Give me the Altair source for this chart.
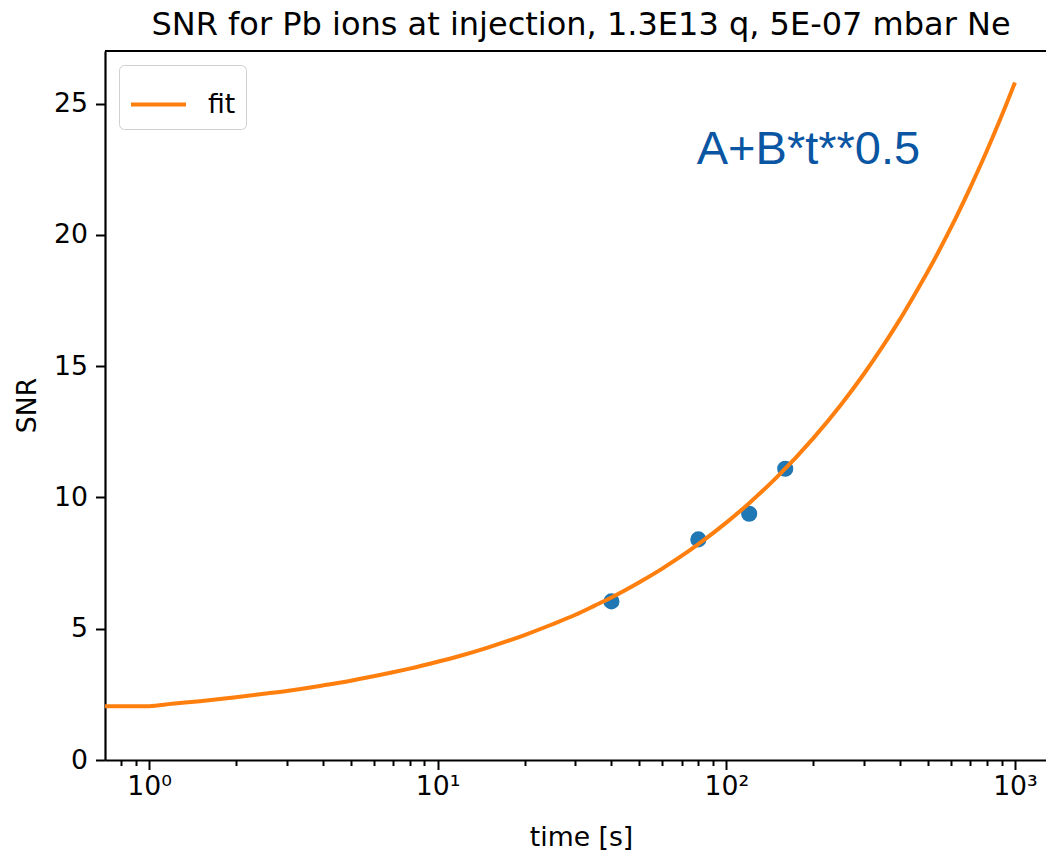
import altair as alt
import pandas as pd

# fitted curve
fit_t = [0.5, 1, 1.2, 1.5, 2, 2.5, 3, 4, 5, 6, 7, 8, 10, 12, 15, 20, 25, 30, 35, 40, 50, 60, 70,
         80, 100, 120, 150, 200, 250, 300, 350, 400, 450, 500, 600, 700, 800, 900, 1000]
fit_snr = [2.04, 2.05, 2.14, 2.24, 2.39, 2.52, 2.63, 2.84, 3.02, 3.19, 3.34, 3.48, 3.74, 3.97,
           4.29, 4.76, 5.17, 5.53, 5.88, 6.19, 6.77, 7.29, 7.77, 8.22, 9.04, 9.78, 10.78, 12.25,
           13.54, 14.71, 15.79, 16.79, 17.74, 18.62, 20.27, 21.8, 23.21, 24.54, 25.8]

# measured points
meas_t = [40, 80, 120, 160]
meas_snr = [6.04, 8.40, 9.38, 11.09]

# annotation
ann_t = [79]
ann_snr = [22.7]
ann_text = ["A+B*t**0.5"]

x_ticks = [0.8, 0.9, 1, 2, 3, 4, 5, 6, 7, 8, 9, 10, 20, 30, 40, 50, 60, 70, 80, 90,
           100, 200, 300, 400, 500, 600, 700, 800, 900, 1000]
y_ticks = [0, 5, 10, 15, 20, 25]

W, H = 941, 709
FONT = "DejaVu Sans"

fit_df = pd.DataFrame({"t": fit_t, "snr": fit_snr, "series": ["fit"] * len(fit_t)})
meas_df = pd.DataFrame({"t": meas_t, "snr": meas_snr})
ann_df = pd.DataFrame({"t": ann_t, "snr": ann_snr, "label": ann_text})

xscale = alt.Scale(type="log", domain=[0.704, 1281], nice=False)
yscale = alt.Scale(domain=[0, 27], nice=False, zero=False)

major = "datum.value==1||datum.value==10||datum.value==100||datum.value==1000"

xaxis = alt.Axis(
    title="time [s]", values=x_ticks, grid=False,
    labelExpr="datum.value==1?'10⁰':datum.value==10?'10¹':datum.value==100?'10²':datum.value==1000?'10³':''",
    tickSize={"condition": {"test": major, "value": 9.5}, "value": 5.5},
    tickWidth=2, tickColor="black", domainColor="black", domainWidth=2.2,
    labelFont=FONT, labelFontSize=26.7, labelColor="black", labelPadding=4,
    labelFlush=False, labelOverlap=False,
    titleFont=FONT, titleFontSize=26.7, titleFontWeight="normal", titleColor="black",
    titleX=476, titleY=85, titleBaseline="alphabetic", titleAlign="center",
)
yaxis = alt.Axis(
    title="SNR", values=y_ticks, grid=False,
    tickSize=9.5, tickWidth=2, tickColor="black", domainColor="black", domainWidth=2.2,
    labelFont=FONT, labelFontSize=26.7, labelColor="black", labelPadding=8,
    titleFont=FONT, titleFontSize=26.7, titleFontWeight="normal", titleColor="black",
    titleX=-70, titleY=354, titleBaseline="alphabetic", titleAlign="center", titleAngle=-90,
)

line = alt.Chart(fit_df).mark_line(strokeWidth=4, clip=True, interpolate="monotone").encode(
    x=alt.X("t:Q", scale=xscale, axis=xaxis),
    y=alt.Y("snr:Q", scale=yscale, axis=yaxis),
    color=alt.Color("series:N", scale=alt.Scale(domain=["fit"], range=["#ff7f0e"]),
                    legend=alt.Legend(title=None, orient="none", legendX=14, legendY=14,
                                      symbolType="stroke", symbolSize=3025, symbolStrokeWidth=4,
                                      labelFont=FONT, labelFontSize=26.7, labelColor="black",
                                      labelOffset=20, padding=10, cornerRadius=5,
                                      fillColor="rgba(255,255,255,0.8)", strokeColor="#d0d0d0")),
)

pts = alt.Chart(meas_df).mark_circle(size=260, opacity=1, color="#1f77b4").encode(
    x=alt.X("t:Q", scale=xscale),
    y=alt.Y("snr:Q", scale=yscale),
)

ann = alt.Chart(ann_df).mark_text(
    align="left", baseline="alphabetic", font="Liberation Sans", fontSize=47, color="#0a56a3"
).encode(
    x=alt.X("t:Q", scale=xscale),
    y=alt.Y("snr:Q", scale=yscale),
    text="label:N",
)

topline = alt.Chart(meas_df).mark_rule(color="black", strokeWidth=2.2).encode(
    x=alt.value(0), x2=alt.value(W), y=alt.value(0)
)

chart = alt.layer(pts, line, ann, topline).properties(
    width=W, height=H,
    autosize=alt.AutoSizeParams(type="none"),
    padding={"left": 105, "top": 51, "right": 0, "bottom": 93},
    title=alt.TitleParams(
        "SNR for Pb ions at injection, 1.3E13 q, 5E-07 mbar Ne",
        font=FONT, fontSize=32, fontWeight="normal", color="black",
        anchor="middle", baseline="alphabetic", offset=17, dx=5.5, dy=34,
    ),
).configure_view(stroke=None).configure(background="white")

chart.save("out.html", embed_options={"renderer": "svg", "actions": False})
